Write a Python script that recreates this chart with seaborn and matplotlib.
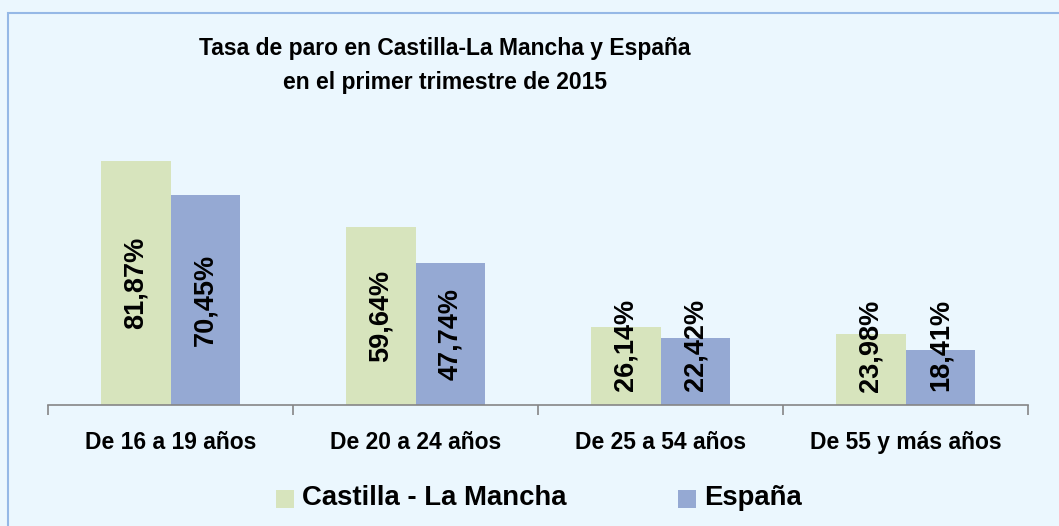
import matplotlib
matplotlib.use("Agg")
import matplotlib.pyplot as plt
import seaborn as sns
import pandas as pd
from matplotlib.patches import Rectangle

# Data
categorias = ["De 16 a 19 años", "De 20 a 24 años", "De 25 a 54 años", "De 55 y más años"]
castilla = [81.87, 59.64, 26.14, 23.98]
espana = [70.45, 47.74, 22.42, 18.41]
series = ["Castilla - La Mancha", "España"]

df = pd.DataFrame({
    "grupo": categorias * 2,
    "tasa": castilla + espana,
    "serie": [series[0]] * 4 + [series[1]] * 4,
})

sns.set_style("white")
plt.rcParams["font.family"] = ["Liberation Sans", "DejaVu Sans"]
plt.rcParams["text.color"] = "black"
plt.rcParams["xtick.color"] = "black"

bg = "#EBF7FE"
fig = plt.figure(figsize=(10.59, 5.26), dpi=100)
fig.patch.set_facecolor(bg)
ax = fig.add_axes([48 / 1059, 121 / 526, 980 / 1059, 298 / 526])
ax.set_facecolor(bg)

# Border of the chart area
fig.patches.append(Rectangle((8 / 1059, -0.1), 1.2, (526 - 13) / 526 + 0.1,
                             transform=fig.transFigure, fill=False,
                             edgecolor="#95B8E6", linewidth=1.5))

sns.barplot(data=df, x="grupo", y="tasa", hue="serie", order=categorias,
            palette=["#D7E4BD", "#95A9D3"], width=0.57, saturation=1,
            linewidth=0, edgecolor="none", ax=ax, legend=False)

ax.set_xlim(-0.5, 3.5)
ax.set_ylim(0, 100)
ax.set_xlabel("")
ax.set_ylabel("")
ax.set_yticks([])
for s in ["top", "right", "left"]:
    ax.spines[s].set_visible(False)
ax.spines["bottom"].set_color("#868686")
ax.spines["bottom"].set_linewidth(1.2)
ax.set_xticks([-0.5, 0.5, 1.5, 2.5, 3.5], minor=True)
ax.tick_params(axis="x", which="minor", bottom=True, length=7, color="#868686",
               width=1.2, direction="out")
ax.tick_params(axis="x", which="major", length=0, pad=19, labelsize=16.5, labelcolor="black")
for lbl in ax.get_xticklabels():
    lbl.set_fontweight("bold")

# Value labels
for cont in ax.containers:
    for bar in cont:
        h = bar.get_height()
        ax.text(bar.get_x() + bar.get_width() / 2, max(h / 2, 20),
                f"{h:.2f}%".replace(".", ","), rotation=90, color="black",
                ha="center", va="center", fontsize=19.5, fontweight="bold")

# Title
fig.text(445 / 1059, 1 - 49 / 526, "Tasa de paro en Castilla-La Mancha y España",
         ha="center", va="center", fontsize=16.5, fontweight="bold", color="black")
fig.text(445 / 1059, 1 - 83 / 526, "en el primer trimestre de 2015",
         ha="center", va="center", fontsize=16.5, fontweight="bold", color="black")

# Legend
ly = 1 - 498 / 526
for x0, col, txt in [(276, "#D7E4BD", series[0]), (678, "#95A9D3", series[1])]:
    fig.patches.append(Rectangle((x0 / 1059, 1 - 508 / 526), 18 / 1059, 18 / 526,
                                 transform=fig.transFigure, facecolor=col, edgecolor="none"))
    fig.text((x0 + 26) / 1059, ly, txt, ha="left", va="center",
             fontsize=19.8, fontweight="bold", color="black")

fig.savefig("out.png", dpi=100, facecolor=bg)
